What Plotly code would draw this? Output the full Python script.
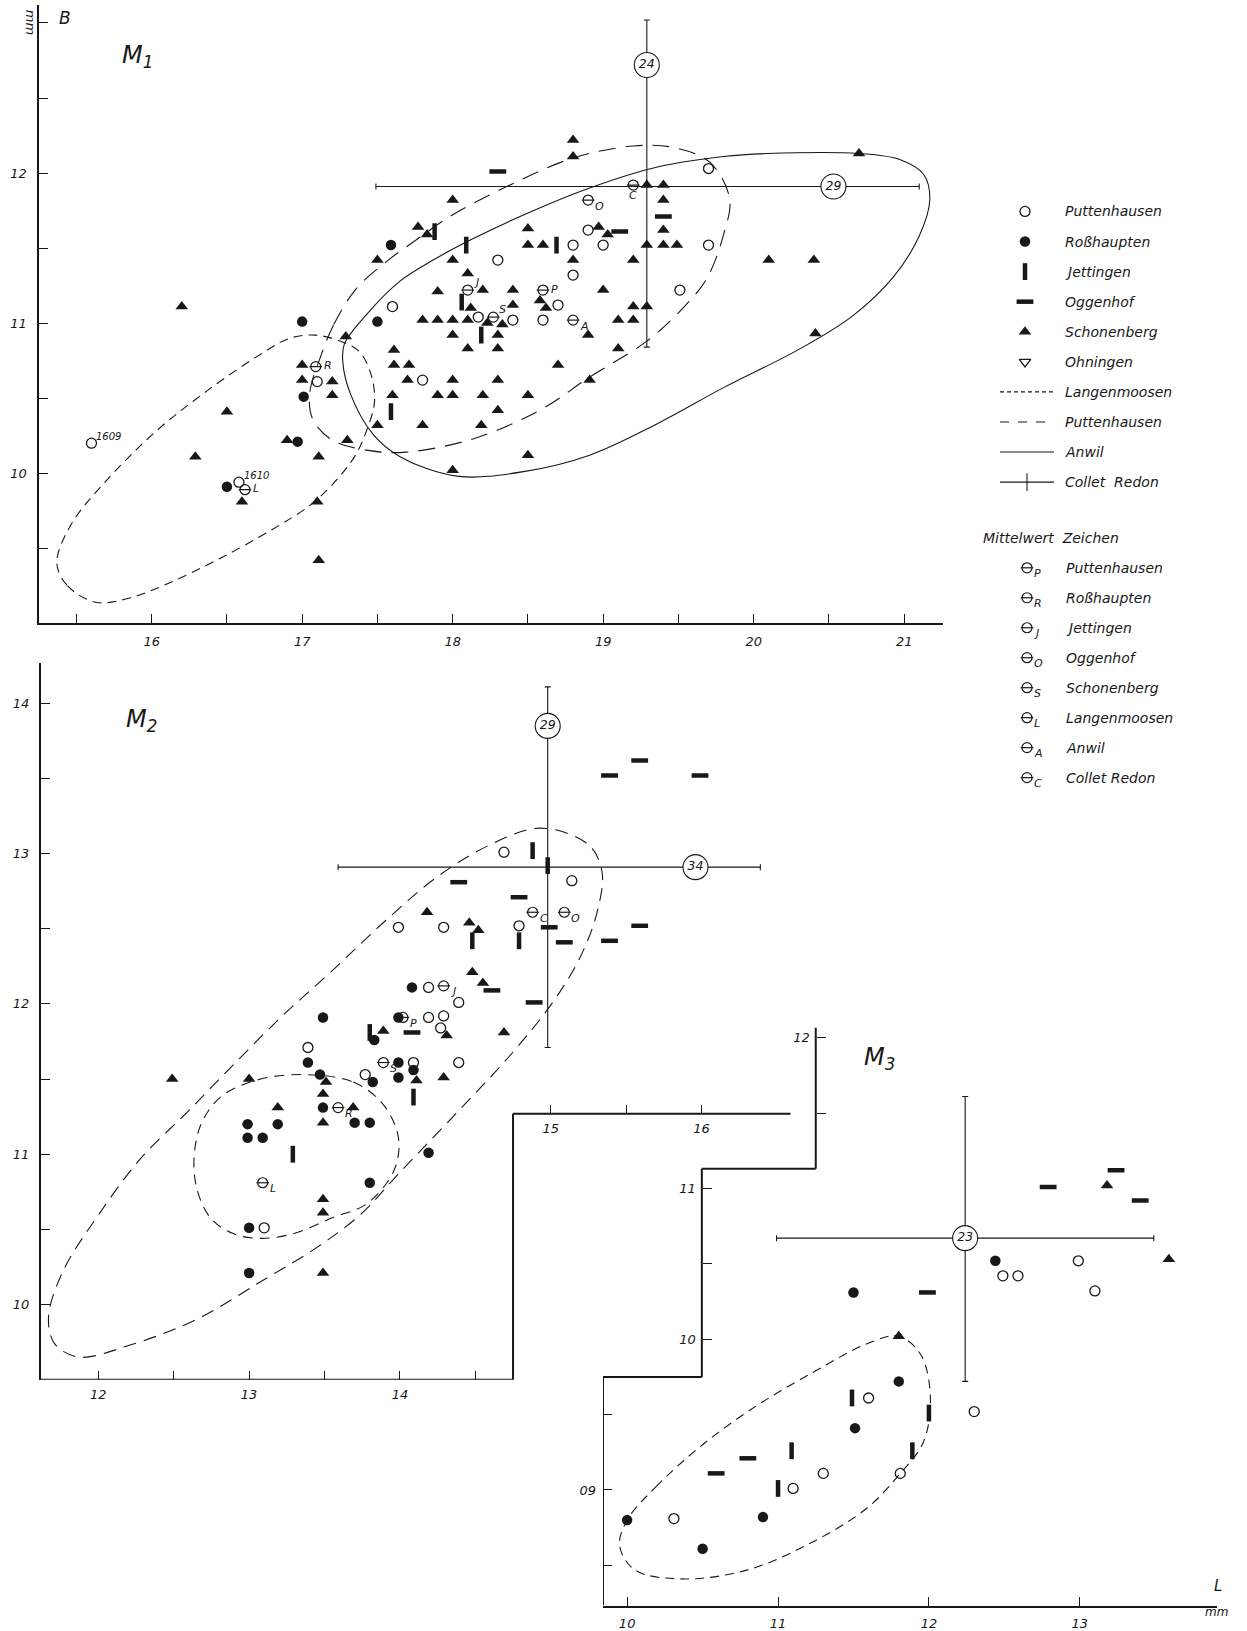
import plotly.graph_objects as go

W, H = 1247, 1631
INK = "#181818"
FONT = "DejaVu Sans"

# ------------------------------------------------------------------
# M1  (length L on x, breadth B on y)
# ------------------------------------------------------------------
M1_PUTTENHAUSEN = [(19.70, 12.03), (19.70, 11.52), (19.51, 11.22), (18.90, 11.62), (18.80, 11.52),
                   (19.00, 11.52), (18.80, 11.32), (18.30, 11.42), (18.70, 11.12), (18.40, 11.02),
                   (18.60, 11.02), (18.17, 11.04), (17.60, 11.11), (17.80, 10.62), (17.10, 10.61),
                   (15.60, 10.20), (16.58, 9.94)]
M1_ROSSHAUPTEN = [(17.00, 11.01), (17.01, 10.51), (16.97, 10.21), (16.50, 9.91), (17.50, 11.01),
                  (17.59, 11.52)]
M1_JETTINGEN = [(17.88, 11.61), (18.09, 11.52), (18.69, 11.52), (18.06, 11.14), (18.19, 10.92),
                (17.59, 10.41)]
M1_OGGENHOF = [(18.30, 12.01), (19.40, 11.71), (19.11, 11.61)]
M1_SCHONENBERG = [
    (18.80, 12.22), (18.80, 12.11), (18.00, 11.82), (17.77, 11.64), (17.83, 11.59), (17.50, 11.42),
    (18.50, 11.63), (18.50, 11.52), (18.60, 11.52), (18.97, 11.64), (19.03, 11.59), (18.80, 11.42),
    (19.20, 11.42), (19.29, 11.52), (19.40, 11.52), (19.49, 11.52), (19.29, 11.92), (19.40, 11.92),
    (19.40, 11.82), (19.40, 11.62), (18.00, 11.42), (18.10, 11.33), (17.90, 11.21), (18.20, 11.22),
    (18.40, 11.22), (19.00, 11.22), (18.58, 11.15), (18.62, 11.10), (18.40, 11.12), (18.12, 11.10),
    (19.20, 11.11), (19.29, 11.11), (17.80, 11.02), (17.90, 11.02), (18.00, 11.02), (18.10, 11.02),
    (18.23, 11.00), (18.33, 10.99), (18.00, 10.92), (18.30, 10.92), (18.90, 10.92), (19.10, 11.02),
    (19.20, 11.02), (17.29, 10.91), (18.10, 10.83), (18.30, 10.83), (19.10, 10.83), (17.61, 10.82),
    (17.61, 10.72), (17.71, 10.72), (18.70, 10.72), (17.70, 10.62), (18.00, 10.62), (18.30, 10.62),
    (18.91, 10.62), (17.60, 10.52), (17.90, 10.52), (18.00, 10.52), (18.20, 10.52), (18.50, 10.52),
    (18.30, 10.42), (17.50, 10.32), (17.80, 10.32), (18.19, 10.32), (18.50, 10.12), (18.00, 10.02),
    (17.00, 10.72), (17.00, 10.62), (17.20, 10.61), (17.20, 10.52), (17.30, 10.22), (17.11, 10.11),
    (16.90, 10.22), (16.50, 10.41), (16.29, 10.11), (16.60, 9.81), (17.10, 9.81), (17.11, 9.42),
    (16.20, 11.11), (20.70, 12.13), (20.10, 11.42), (20.40, 11.42), (20.41, 10.93),
]
M1_NUMBERED = {"1609": (15.60, 10.20), "1610": (16.58, 9.94)}
M1_MEANS = {"P": (18.60, 11.22), "R": (17.09, 10.71), "J": (18.10, 11.22), "S": (18.27, 11.04),
            "A": (18.80, 11.02), "O": (18.90, 11.82), "C": (19.20, 11.92), "L": (16.62, 9.89)}
M1_CROSS = dict(x=19.29, y=11.91, x_lo=17.49, x_hi=21.10, y_lo=10.84, y_hi=13.02,
                n_x=29, n_x_at=20.53, n_y=24, n_y_at=12.72)
M1_LANGENMOOSEN_OUTLINE = [
    (15.37, 9.40), (15.44, 9.25), (15.63, 9.14), (15.86, 9.17), (16.12, 9.27), (16.45, 9.43),
    (16.81, 9.63), (17.07, 9.80), (17.25, 9.98), (17.36, 10.13), (17.43, 10.29), (17.48, 10.47),
    (17.46, 10.65), (17.38, 10.81), (17.25, 10.88), (17.09, 10.92), (16.92, 10.90), (16.72, 10.79),
    (16.37, 10.55), (16.03, 10.28), (15.68, 9.93), (15.46, 9.65)]
M1_PUTTENHAUSEN_OUTLINE = [
    (17.12, 10.77), (17.21, 10.99), (17.36, 11.23), (17.56, 11.41), (17.78, 11.57), (17.98, 11.71),
    (18.38, 11.92), (18.80, 12.10), (19.20, 12.18), (19.47, 12.17), (19.71, 12.07), (19.84, 11.83),
    (19.80, 11.59), (19.69, 11.30), (19.53, 11.10), (19.29, 10.88), (18.91, 10.64), (18.58, 10.42),
    (18.14, 10.23), (17.69, 10.14), (17.45, 10.15), (17.20, 10.22), (17.07, 10.36), (17.05, 10.53)]
M1_ANWIL_OUTLINE = [
    (17.27, 10.74), (17.32, 10.53), (17.47, 10.26), (17.65, 10.11), (18.03, 9.98), (18.47, 10.01),
    (18.91, 10.12), (19.36, 10.33), (19.80, 10.57), (20.31, 10.83), (20.66, 11.05), (20.93, 11.31),
    (21.10, 11.58), (21.17, 11.82), (21.13, 11.99), (20.97, 12.09), (20.70, 12.13), (20.09, 12.13),
    (19.80, 12.11), (19.36, 12.04), (18.91, 11.90), (18.47, 11.72), (18.11, 11.55), (17.87, 11.42),
    (17.65, 11.28), (17.43, 11.06), (17.28, 10.86)]

# ------------------------------------------------------------------
# M2
# ------------------------------------------------------------------
M2_PUTTENHAUSEN = [(14.69, 13.01), (15.14, 12.82), (13.99, 12.51), (14.29, 12.51), (14.79, 12.52),
                   (14.19, 12.11), (14.39, 12.01), (14.19, 11.91), (14.29, 11.92), (14.27, 11.84),
                   (13.39, 11.71), (13.77, 11.53), (14.09, 11.61), (14.39, 11.61), (13.10, 10.51)]
M2_ROSSHAUPTEN = [(14.08, 12.11), (13.49, 11.91), (13.99, 11.91), (13.83, 11.76), (13.39, 11.61),
                  (13.47, 11.53), (13.82, 11.48), (13.99, 11.61), (13.99, 11.51), (14.09, 11.56),
                  (13.49, 11.31), (13.70, 11.21), (13.80, 11.21), (12.99, 11.20), (13.19, 11.20),
                  (12.99, 11.11), (13.09, 11.11), (14.19, 11.01), (13.80, 10.81), (13.00, 10.51),
                  (13.00, 10.21)]
M2_JETTINGEN = [(14.88, 13.02), (14.98, 12.92), (14.48, 12.42), (14.79, 12.42), (13.80, 11.81),
                (13.29, 11.00), (14.09, 11.38)]
M2_OGGENHOF = [(15.39, 13.52), (15.59, 13.62), (15.99, 13.52), (14.39, 12.81), (14.79, 12.71),
               (14.99, 12.51), (15.09, 12.41), (15.39, 12.42), (15.59, 12.52), (14.89, 12.01),
               (14.61, 12.09), (14.08, 11.81)]
M2_SCHONENBERG = [(14.18, 12.61), (14.46, 12.54), (14.52, 12.49), (14.48, 12.21), (14.55, 12.14),
                  (14.69, 11.81), (14.31, 11.79), (13.89, 11.82), (12.49, 11.50), (13.00, 11.50),
                  (13.51, 11.48), (13.49, 11.40), (13.19, 11.31), (13.69, 11.31), (13.49, 11.21),
                  (14.29, 11.51), (14.11, 11.49), (13.49, 10.70), (13.49, 10.61), (13.49, 10.21)]
M2_MEANS = {"C": (14.88, 12.61), "O": (15.09, 12.61), "J": (14.29, 12.12), "P": (14.02, 11.91),
            "S": (13.89, 11.61), "R": (13.59, 11.31), "L": (13.09, 10.81)}
M2_CROSS = dict(x=14.98, y=12.91, x_lo=13.59, x_hi=16.39, y_lo=11.71, y_hi=14.11,
                n_x=34, n_x_at=15.96, n_y=29, n_y_at=13.85)
M2_PUTTENHAUSEN_OUTLINE = [
    (14.93, 13.17), (14.58, 13.05), (14.24, 12.84), (13.90, 12.55), (13.55, 12.22), (13.22, 11.92),
    (12.90, 11.60), (12.59, 11.28), (12.28, 10.97), (11.99, 10.58), (11.77, 10.23), (11.67, 9.92),
    (11.71, 9.74), (11.87, 9.65), (12.21, 9.73), (12.65, 9.90), (13.09, 10.16), (13.45, 10.38),
    (13.74, 10.60), (14.00, 10.88), (14.40, 11.30), (14.75, 11.68), (15.02, 12.02), (15.20, 12.32),
    (15.31, 12.62), (15.34, 12.88), (15.25, 13.06)]
M2_LANGENMOOSEN_OUTLINE = [
    (13.34, 11.53), (13.69, 11.48), (13.89, 11.33), (13.99, 11.11), (13.96, 10.89), (13.78, 10.67),
    (13.56, 10.58), (13.29, 10.47), (13.07, 10.44), (12.90, 10.47), (12.74, 10.58), (12.64, 10.84),
    (12.67, 11.17), (12.81, 11.38), (13.04, 11.49)]

# ------------------------------------------------------------------
# M3
# ------------------------------------------------------------------
M3_PUTTENHAUSEN = [(10.31, 8.81), (11.10, 9.01), (11.30, 9.11), (11.60, 9.61), (11.81, 9.11),
                   (12.30, 9.52), (12.49, 10.42), (12.59, 10.42), (12.99, 10.52), (13.10, 10.32)]
M3_ROSSHAUPTEN = [(10.00, 8.80), (10.50, 8.61), (10.90, 8.82), (11.50, 10.31), (11.51, 9.41),
                  (11.80, 9.72), (12.44, 10.52)]
M3_JETTINGEN = [(11.00, 9.01), (11.09, 9.26), (11.49, 9.61), (12.00, 9.51), (11.89, 9.26)]
M3_OGGENHOF = [(10.59, 9.11), (10.80, 9.21), (11.99, 10.31), (12.79, 11.01), (13.24, 11.12),
               (13.40, 10.92)]
M3_SCHONENBERG = [(11.80, 10.02), (13.18, 11.02), (13.59, 10.53)]
M3_CROSS = dict(x=12.24, y=10.67, x_lo=10.99, x_hi=13.49, y_lo=9.72, y_hi=11.61, n=23)
M3_LANGENMOOSEN_OUTLINE = [
    (10.00, 8.80), (10.19, 9.02), (10.50, 9.30), (10.86, 9.56), (11.25, 9.79), (11.59, 9.97),
    (11.80, 10.02), (11.95, 9.89), (12.01, 9.59), (11.96, 9.31), (11.81, 9.11), (11.59, 8.88),
    (11.22, 8.65), (10.80, 8.47), (10.36, 8.41), (10.05, 8.47), (9.95, 8.63)]

SITES = ["Puttenhausen", "Roßhaupten", "Jettingen", "Oggenhof", "Schonenberg", "Ohningen"]
MEAN_NAMES = {"P": "Puttenhausen", "R": "Roßhaupten", "J": "Jettingen", "O": "Oggenhof",
              "S": "Schonenberg", "L": "Langenmoosen", "A": "Anwil", "C": "Collet Redon"}

# ------------------------------------------------------------------
# page layout of the three diagrams (pixel boxes: left, right, top, bottom)
# ------------------------------------------------------------------
M1_BOX, M1_XR, M1_YR = (38.5, 943, 5, 628), [15.248, 21.258], [8.999, 13.120]
M2_BOX, M2_XR, M2_YR = (41, 800, 668, 1390), [11.620, 16.653], [9.499, 14.268]
M3_BOX, M3_XR, M3_YR = (603, 1217, 1035, 1617.5), [9.840, 13.909], [8.233, 12.068]
M2_STEP_X, M2_STEP_Y, M2_UPPER_END = 14.75, 11.27, 16.59
M3_STEP_X = [10.495, 11.25]
M3_STEP_Y = [9.75, 11.13]


def dom_x(box):
    return [box[0] / W, box[1] / W]


def dom_y(box):
    return [1 - box[3] / H, 1 - box[2] / H]


def paper_x(v, box, xr):
    return (box[0] + (v - xr[0]) / (xr[1] - xr[0]) * (box[1] - box[0])) / W


def paper_y(v, box, yr):
    return 1 - (box[3] - (v - yr[0]) / (yr[1] - yr[0]) * (box[3] - box[2])) / H


TICK_STYLE = dict(ticks="inside", ticklen=9, tickwidth=1.3, tickcolor=INK)


def tick_spec(labelled, unlabelled=()):
    spec = dict(tickvals=list(labelled), ticktext=[f"{int(v):02d}" for v in labelled])
    if unlabelled:
        spec["minor"] = dict(tickvals=list(unlabelled), showgrid=False, **TICK_STYLE)
    return spec


def axis(**kw):
    base = dict(showgrid=False, zeroline=False, showline=False, linecolor=INK, linewidth=2,
                fixedrange=True, ticklabelstandoff=5,
                tickfont=dict(family=FONT, size=13, color=INK, style="italic"), **TICK_STYLE)
    base.update(kw)
    return base


MARKERS = {
    "Puttenhausen": dict(symbol="circle-open", size=10, color=INK, line=dict(width=1.3, color=INK)),
    "Roßhaupten": dict(symbol="circle", size=10.5, color=INK, line=dict(width=0)),
    "Jettingen": dict(symbol="line-ns", size=12, color=INK, line=dict(width=4.5, color=INK)),
    "Oggenhof": dict(symbol="line-ew", size=12, color=INK, line=dict(width=4.5, color=INK)),
    "Schonenberg": dict(symbol="triangle-up", size=11, color=INK, line=dict(width=0)),
    "Ohningen": dict(symbol="triangle-down-open", size=10, color=INK, line=dict(width=1.3, color=INK)),
}
THETA = dict(symbol="circle-open", size=10, color=INK, line=dict(width=1.2, color=INK))
THETA_BAR = dict(symbol="line-ew", size=9, color=INK, line=dict(width=1.2, color=INK))
# subscript offsets (pixels) next to a mean symbol
SUB_SHIFT = {"br": (5, -6, "left"), "r": (6, 1, "left"), "tr": (4, 8, "left"),
             "b": (0, -10, "center")}
TXT = dict(family=FONT, color=INK, style="italic")

fig = go.Figure()
annotations = []


def outline(pairs, xa, ya, dash):
    xs = [p[0] for p in pairs] + [pairs[0][0]]
    ys = [p[1] for p in pairs] + [pairs[0][1]]
    fig.add_trace(go.Scatter(x=xs, y=ys, xaxis=xa, yaxis=ya, mode="lines",
                             line=dict(color=INK, width=1.1, dash=dash, shape="spline",
                                       smoothing=1.0),
                             hoverinfo="skip"))


def cross(c, xa, ya):
    fig.add_trace(go.Scatter(
        x=[c["x"]], y=[c["y"]], xaxis=xa, yaxis=ya, mode="markers",
        marker=dict(size=1, color=INK),
        error_x=dict(type="data", symmetric=False, array=[c["x_hi"] - c["x"]],
                     arrayminus=[c["x"] - c["x_lo"]], thickness=1.1, width=3, color=INK),
        error_y=dict(type="data", symmetric=False, array=[c["y_hi"] - c["y"]],
                     arrayminus=[c["y"] - c["y_lo"]], thickness=1.1, width=3, color=INK),
        hoverinfo="skip"))


def cross_labels(xs, ys, texts, xa, ya):
    fig.add_trace(go.Scatter(
        x=xs, y=ys, xaxis=xa, yaxis=ya, mode="markers+text", text=texts,
        textposition="middle center",
        textfont=dict(family=FONT, size=12.5, color=INK, style="italic"),
        marker=dict(symbol="circle", size=25, color="white", line=dict(width=1.1, color=INK)),
        hoverinfo="skip"))


def points(series, xa, ya):
    for site, pairs in series.items():
        fig.add_trace(go.Scatter(x=[p[0] for p in pairs], y=[p[1] for p in pairs],
                                 xaxis=xa, yaxis=ya, mode="markers", name=site,
                                 marker=MARKERS[site], hoverinfo="skip"))


def subscript(letter, x, y, where, xref, yref):
    dx, dy, anchor = SUB_SHIFT[where]
    annotations.append(dict(x=x, y=y, xref=xref, yref=yref, text=letter, showarrow=False,
                            xshift=dx, yshift=dy, xanchor=anchor, yanchor="middle",
                            font=dict(TXT, size=11)))


def means(m, where, xa, ya):
    keys = list(m)
    xs = [m[k][0] for k in keys]
    ys = [m[k][1] for k in keys]
    fig.add_trace(go.Scatter(x=xs, y=ys, xaxis=xa, yaxis=ya, mode="markers", marker=THETA,
                             hoverinfo="skip"))
    fig.add_trace(go.Scatter(x=xs, y=ys, xaxis=xa, yaxis=ya, mode="markers", marker=THETA_BAR,
                             hoverinfo="skip"))
    for k in keys:
        subscript(k, m[k][0], m[k][1], where.get(k, "br"), xa, ya)


# ---------- M1 ----------
outline(M1_LANGENMOOSEN_OUTLINE, "x", "y", "9px,6px")
outline(M1_PUTTENHAUSEN_OUTLINE, "x", "y", "17px,10px")
outline(M1_ANWIL_OUTLINE, "x", "y", "solid")
cross(M1_CROSS, "x", "y")
points({"Puttenhausen": M1_PUTTENHAUSEN, "Roßhaupten": M1_ROSSHAUPTEN,
        "Jettingen": M1_JETTINGEN, "Oggenhof": M1_OGGENHOF,
        "Schonenberg": M1_SCHONENBERG}, "x", "y")
for label, (nx, ny) in M1_NUMBERED.items():
    annotations.append(dict(x=nx, y=ny, xref="x", yref="y", text=label, showarrow=False,
                            xshift=3, yshift=7, xanchor="left", yanchor="middle",
                            font=dict(TXT, size=10)))
means(M1_MEANS, {"P": "r", "R": "r", "J": "tr", "S": "tr", "C": "b", "L": "r"}, "x", "y")
cross_labels([M1_CROSS["x"], M1_CROSS["n_x_at"]], [M1_CROSS["n_y_at"], M1_CROSS["y"]],
             [str(M1_CROSS["n_y"]), str(M1_CROSS["n_x"])], "x", "y")

# ---------- M2 ----------
outline(M2_PUTTENHAUSEN_OUTLINE, "x2", "y2", "13px,8px")
outline(M2_LANGENMOOSEN_OUTLINE, "x2", "y2", "10px,7px")
cross(M2_CROSS, "x2", "y2")
points({"Puttenhausen": M2_PUTTENHAUSEN, "Roßhaupten": M2_ROSSHAUPTEN,
        "Jettingen": M2_JETTINGEN, "Oggenhof": M2_OGGENHOF,
        "Schonenberg": M2_SCHONENBERG}, "x2", "y2")
means(M2_MEANS, {}, "x2", "y2")
cross_labels([M2_CROSS["x"], M2_CROSS["n_x_at"]], [M2_CROSS["n_y_at"], M2_CROSS["y"]],
             [str(M2_CROSS["n_y"]), str(M2_CROSS["n_x"])], "x2", "y2")

# ---------- M3 ----------
outline(M3_LANGENMOOSEN_OUTLINE, "x3", "y3", "9px,6px")
cross(M3_CROSS, "x3", "y3")
points({"Puttenhausen": M3_PUTTENHAUSEN, "Roßhaupten": M3_ROSSHAUPTEN,
        "Jettingen": M3_JETTINGEN, "Oggenhof": M3_OGGENHOF,
        "Schonenberg": M3_SCHONENBERG}, "x3", "y3")
cross_labels([M3_CROSS["x"]], [M3_CROSS["y"]], [str(M3_CROSS["n"])], "x3", "y3")

# empty traces that register the extra tick axes
for xa, ya in [("x4", "y2"), ("x3", "y4"), ("x3", "y5")]:
    fig.add_trace(go.Scatter(x=[], y=[], xaxis=xa, yaxis=ya, mode="markers", hoverinfo="skip"))

# ---------- key (drawn on a page-sized overlay in pixel units) ----------
KEY_SYMBOL_X, KEY_TEXT_X, KEY_TOP, KEY_STEP = 1025, 1063, 213, 30.3
MEAN_SYMBOL_X, MEAN_TEXT_X, MEAN_TOP, MEAN_STEP = 1027, 1064, 572, 30.2
KEY_ROWS = SITES + ["Langenmoosen", "Puttenhausen", "Anwil", "Collet\u00a0 Redon"]

for i, site in enumerate(SITES):
    fig.add_trace(go.Scatter(x=[KEY_SYMBOL_X], y=[KEY_TOP + i * KEY_STEP], xaxis="x5",
                             yaxis="y6", mode="markers", marker=MARKERS[site], hoverinfo="skip"))
mean_keys = list(MEAN_NAMES)
mean_rows = [MEAN_TOP + j * MEAN_STEP for j in range(len(mean_keys))]
fig.add_trace(go.Scatter(x=[MEAN_SYMBOL_X] * len(mean_keys), y=mean_rows, xaxis="x5",
                         yaxis="y6", mode="markers", marker=THETA, hoverinfo="skip"))
fig.add_trace(go.Scatter(x=[MEAN_SYMBOL_X] * len(mean_keys), y=mean_rows, xaxis="x5",
                         yaxis="y6", mode="markers", marker=THETA_BAR, hoverinfo="skip"))
for k, row in zip(mean_keys, mean_rows):
    subscript(k, MEAN_SYMBOL_X, row, "br", "x5", "y6")

shapes = []
line_rows = {"Langenmoosen": (6, "4px,3px"), "Puttenhausen": (7, "9px,9px"), "Anwil": (8, "solid"),
             "Collet Redon": (9, "solid")}
for name, (row, dash) in line_rows.items():
    y = KEY_TOP + row * KEY_STEP
    shapes.append(dict(type="line", xref="x5", yref="y6", x0=1000, x1=1054, y0=y, y1=y,
                       line=dict(color=INK, width=1.1, dash=dash)))
cy = KEY_TOP + 9 * KEY_STEP
shapes.append(dict(type="line", xref="x5", yref="y6", x0=1027, x1=1027, y0=cy - 9, y1=cy + 9,
                   line=dict(color=INK, width=1.1)))

# stepped base lines of M2 and M3
frame = [
    dict(xref="x2", yref="y2", x0=M2_XR[0], x1=M2_STEP_X, y0=M2_YR[0], y1=M2_YR[0]),
    dict(xref="x2", yref="y2", x0=M2_STEP_X, x1=M2_STEP_X, y0=M2_YR[0], y1=M2_STEP_Y),
    dict(xref="x2", yref="y2", x0=M2_STEP_X, x1=M2_UPPER_END, y0=M2_STEP_Y, y1=M2_STEP_Y),
]
m3_x = [M3_XR[0]] + M3_STEP_X
m3_y = [M3_YR[0]] + M3_STEP_Y + [M3_YR[1]]
for k in range(3):
    frame.append(dict(xref="x3", yref="y3", x0=m3_x[k], x1=m3_x[k], y0=m3_y[k], y1=m3_y[k + 1]))
    if k < 2:
        frame.append(dict(xref="x3", yref="y3", x0=m3_x[k], x1=m3_x[k + 1],
                          y0=m3_y[k + 1], y1=m3_y[k + 1]))
for s in frame:
    s.update(type="line", line=dict(color=INK, width=2))
shapes += frame

page_text = []
for i, label in enumerate(KEY_ROWS):
    page_text.append(dict(x=KEY_TEXT_X, y=KEY_TOP + i * KEY_STEP, text=label,
                          font=dict(TXT, size=14)))
page_text.append(dict(x=981, y=542, text="Mittelwert\u00a0 Zeichen", font=dict(TXT, size=14)))
for k, row in zip(mean_keys, mean_rows):
    page_text.append(dict(x=MEAN_TEXT_X, y=row, text=MEAN_NAMES[k], font=dict(TXT, size=14)))
page_text += [
    dict(x=120, y=57, text="M<sub>1</sub>", font=dict(TXT, size=24)),
    dict(x=124, y=726, text="M<sub>2</sub>", font=dict(TXT, size=24)),
    dict(x=862, y=1066, text="M<sub>3</sub>", font=dict(TXT, size=24)),
    dict(x=57, y=18, text="B", font=dict(TXT, size=17)),
    dict(x=30, y=22, text="mm", textangle=90, xanchor="center", font=dict(TXT, size=13)),
    dict(x=1212, y=1598, text="L", font=dict(TXT, size=15)),
    dict(x=1203, y=1624, text="mm", font=dict(TXT, size=12)),
]
for a in page_text:
    a.setdefault("xanchor", "left")
    a.update(xref="x5", yref="y6", yanchor="middle", showarrow=False)
annotations += page_text

fig.update_layout(
    width=W, height=H, margin=dict(l=0, r=0, t=0, b=0), showlegend=False,
    paper_bgcolor="white", plot_bgcolor="rgba(0,0,0,0)",
    xaxis=axis(domain=dom_x(M1_BOX), range=M1_XR, anchor="y", showline=True,
               **tick_spec([16, 17, 18, 19, 20, 21],
                           [15.5, 16.5, 17.5, 18.5, 19.5, 20.5])),
    yaxis=axis(domain=dom_y(M1_BOX), range=M1_YR, anchor="x", showline=True,
               ticklabelstandoff=7, **tick_spec([10, 11, 12], [9.5, 10.5, 11.5, 12.5, 13])),
    xaxis2=axis(domain=dom_x(M2_BOX), range=M2_XR, anchor="y2",
                **tick_spec([12, 13, 14], [12.5, 13.5, 14.5])),
    yaxis2=axis(domain=dom_y(M2_BOX), range=M2_YR, anchor="x2", showline=True,
                ticklabelstandoff=7,
                **tick_spec([10, 11, 12, 13, 14], [10.5, 11.5, 12.5, 13.5])),
    xaxis3=axis(domain=dom_x(M3_BOX), range=M3_XR, anchor="y3", showline=True,
                **tick_spec([10, 11, 12, 13])),
    yaxis3=axis(domain=dom_y(M3_BOX), range=M3_YR, anchor="x3", ticklabelstandoff=6,
                **tick_spec([9], [8.5, 9.5])),
    xaxis4=axis(range=M2_XR, overlaying="x2", anchor="free",
                position=paper_y(M2_STEP_Y, M2_BOX, M2_YR), **tick_spec([15, 16], [15.5])),
    yaxis4=axis(range=M3_YR, overlaying="y3", anchor="free", ticklabelstandoff=6,
                position=paper_x(M3_STEP_X[0], M3_BOX, M3_XR), **tick_spec([10, 11], [10.5])),
    yaxis5=axis(range=M3_YR, overlaying="y3", anchor="free", ticklabelstandoff=6,
                position=paper_x(M3_STEP_X[1], M3_BOX, M3_XR), **tick_spec([12], [11.5])),
    xaxis5=dict(domain=[0, 1], range=[0, W], visible=False, anchor="y6", fixedrange=True),
    yaxis6=dict(domain=[0, 1], range=[H, 0], visible=False, anchor="x5", fixedrange=True),
    shapes=shapes, annotations=annotations,
)

fig.write_html("out.html")
